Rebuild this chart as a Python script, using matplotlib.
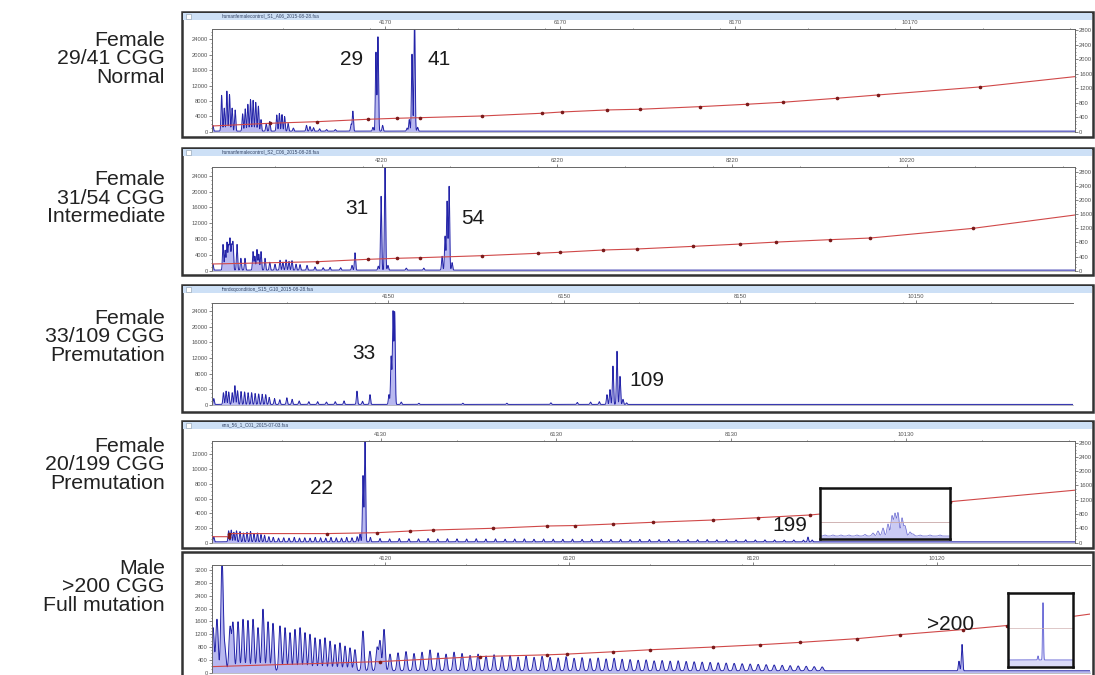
import numpy as np
import matplotlib.pyplot as plt
from matplotlib.patches import Rectangle
from matplotlib.ticker import MultipleLocator

plt.rcParams['font.family'] = ['Liberation Sans', 'DejaVu Sans']

W, H = 1095, 675

# ---- labels ----
sample_labels = ["Female\n29/41 CGG\nNormal",
                 "Female\n31/54 CGG\nIntermediate",
                 "Female\n33/109 CGG\nPremutation",
                 "Female\n20/199 CGG\nPremutation",
                 "Male\n>200 CGG\nFull mutation"]
file_names = ["humanfemalecontrol_S1_A06_2015-08-28.fsa",
              "humanfemalecontrol_S2_C06_2015-08-28.fsa",
              "fmrdxqcondition_S15_G10_2015-08-28.fsa",
              "ena_56_1_C01_2015-07-03.fsa",
              None]
top_ticks = [[4170, 6170, 8170, 10170],
             [4220, 6220, 8220, 10220],
             [4150, 6150, 8150, 10150],
             [4130, 6130, 8130, 10130],
             [4120, 6120, 8120, 10120]]

# ---- peaks (scan, RFU) ----
p1_pos = [2200, 2300, 2330, 2360, 2390, 2420, 2455, 2540, 2570, 2600,
          2630, 2660, 2690, 2720, 2750, 2810, 2850, 2930, 2960, 2990,
          3020, 3060, 3120, 3270, 3310, 3350, 3420, 3500, 3600, 3780,
          3800, 4030, 4064, 4087, 4140, 4420, 4445, 4476, 4505, 4540]
p1_hgt = [1500, 9300, 6000, 10400, 9500, 6000, 5500, 4500, 5800, 7000,
          8200, 8000, 7500, 6500, 3000, 2000, 2500, 4200, 4600, 4300,
          3800, 2000, 800, 1500, 1200, 900, 600, 400, 400, 1800,
          5200, 1000, 20500, 24500, 1500, 800, 3000, 20000, 30000, 1000]

p2_pos = [2290, 2406, 2430, 2451, 2470, 2486, 2505, 2520, 2566, 2610,
          2657, 2749, 2770, 2794, 2815, 2840, 2886, 2940, 3000, 3057,
          3090, 3126, 3160, 3194, 3240, 3286, 3366, 3457, 3550, 3629,
          3750, 3880, 3914, 4180, 4212, 4257, 4290, 4500, 4700, 4909,
          4943, 4966, 4989, 5023]
p2_hgt = [1500, 6500, 5000, 7000, 6000, 7800, 6000, 6800, 6500, 3000,
          3000, 4700, 3500, 5200, 4000, 4700, 3000, 2000, 1500, 2500,
          2000, 2600, 2200, 2400, 1500, 1400, 1200, 800, 600, 700,
          600, 1200, 4400, 1000, 18700, 27000, 1200, 500, 500, 3500,
          8600, 17400, 21200, 1900]

p3_pos = [2170, 2280, 2310, 2340, 2380, 2410, 2440, 2480, 2520, 2560,
          2600, 2640, 2680, 2720, 2760, 2800, 2860, 2920, 3000, 3060,
          3140, 3250, 3350, 3450, 3550, 3650, 3797, 3860, 3945, 4160,
          4185, 4206, 4225, 4300, 4500, 5000, 5500, 6000, 6300, 6450,
          6550, 6637, 6671, 6705, 6751, 6785, 6819, 6860]
p3_hgt = [1500, 3000, 3400, 3200, 3000, 4800, 3500, 3300, 3200, 3000,
          3000, 2800, 2700, 2600, 2500, 1800, 1500, 1200, 1700, 1300,
          900, 700, 700, 600, 700, 900, 3400, 800, 2500, 2500,
          12300, 23600, 23400, 600, 300, 300, 300, 400, 500, 600,
          700, 2500, 3800, 9800, 13600, 7200, 1300, 400]

p4_pos = [2220, 2390, 2420, 2450, 2480, 2520, 2560, 2600, 2640, 2680,
          2720, 2760, 2800, 2850, 2900, 2960, 3020, 3080, 3140, 3200,
          3260, 3320, 3380, 3440, 3500, 3560, 3620, 3680, 3740, 3800,
          3860, 3892, 3926, 3949, 4010, 4120, 4230, 4340, 4450, 4560,
          4670, 4780, 4890, 5000, 5110, 5220, 5330, 5440, 5550, 5660,
          5770, 5880, 5990, 6100, 6210, 6320, 6430, 6540, 6650, 6760,
          6870, 6980, 7090, 7200, 7310, 7420, 7530, 7640, 7750, 7860,
          7970, 8080, 8190, 8300, 8410, 8520, 8630, 8740, 8850, 8960,
          9012, 9060]
p4_hgt = [700, 1500, 1600, 1300, 1500, 1400, 1200, 1300, 1400, 1100,
          1200, 1000, 900, 700, 600, 500, 550, 500, 600, 500,
          550, 500, 600, 550, 500, 600, 550, 500, 600, 550,
          700, 1050, 8980, 14500, 600, 450, 400, 450, 420, 400,
          450, 380, 420, 400, 380, 420, 380, 400, 360, 380,
          400, 350, 380, 360, 340, 360, 330, 350, 340, 320,
          340, 300, 330, 310, 300, 320, 290, 300, 280, 300,
          270, 280, 260, 280, 250, 260, 250, 240, 250, 230,
          640, 250]

p5_pos = [2251, 2294, 2349, 2380, 2436, 2468, 2523, 2577, 2631, 2686,
          2740, 2794, 2849, 2903, 2979, 3034, 3088, 3142, 3197, 3251,
          3305, 3360, 3414, 3468, 3523, 3577, 3631, 3686, 3740, 3794,
          3881, 3957, 4034, 4066, 4110,
          4175, 4262, 4349, 4436, 4523, 4610, 4697, 4784, 4871, 4958,
          5045, 5132, 5219, 5306, 5393, 5480, 5567, 5654, 5741, 5828,
          5915, 6002, 6089, 6176, 6263, 6350, 6437, 6524, 6611, 6698,
          6785, 6872, 6959, 7046, 7133, 7220, 7307, 7394, 7481, 7568,
          7655, 7742, 7829, 7916, 8003, 8090, 8177, 8264, 8351, 8438,
          8525, 8612, 8699, 8786, 8873, 10360, 10393]
p5_hgt = [1345, 1606, 3500, 700, 1345, 1480, 1530, 1606, 1570, 1606,
          1345, 1920, 1530, 1480, 1400, 1345, 1190, 1290, 1345, 1190,
          1140, 1030, 980, 1030, 925, 820, 870, 770, 715, 660,
          1240, 610, 715, 925, 1290,
          520, 560, 600, 540, 580, 650, 560, 520, 580, 540,
          480, 520, 460, 500, 440, 480, 430, 460, 420, 450,
          420, 400, 440, 390, 410, 380, 400, 370, 390, 360,
          350, 330, 340, 310, 320, 300, 310, 290, 280, 270,
          260, 250, 240, 230, 220, 210, 200, 190, 180, 170,
          160, 150, 140, 130, 120, 300, 820]

# ---- size-standard (red) curves ----
p1_lad_x = [2190, 2853, 3390, 3973, 4304, 4567, 5276, 5962, 6190, 6705,
            7082, 7768, 8305, 8716, 9333, 9802, 10968, 12054]
p1_lad_y = [157, 232, 276, 342, 370, 386, 433, 508, 543, 599,
            618, 690, 756, 811, 921, 1012, 1233, 1517]
p2_lad_x = [2280, 3480, 4063, 4394, 4657, 5366, 6006, 6257, 6749, 7137,
            7770, 8310, 8720, 9340, 9800, 10970, 12140]
p2_lad_y = [190, 255, 323, 352, 369, 426, 494, 522, 587, 616,
            690, 756, 811, 880, 927, 1200, 1580]
p4_lad_x = [2200, 2390, 2400, 3514, 4086, 4463, 4726, 5412, 6029, 6349,
            6783, 7241, 7926, 8441, 9035, 10635, 12087]
p4_lad_y = [168, 168, 255, 255, 280, 327, 355, 403, 467, 480,
            523, 571, 635, 699, 775, 1147, 1474]
p5_lad_x = [2240, 4066, 5153, 5881, 6099, 6599, 7001, 7686, 8197, 8632,
            9251, 9719, 10404, 10882, 11838]
p5_lad_y = [189, 346, 504, 557, 580, 652, 715, 800, 872, 945,
            1061, 1187, 1345, 1471, 1849]

# ---- insets (zoomed views) ----
ins4_pos = [5, 13, 21, 29, 37, 45, 53, 58, 63, 68, 72, 75, 78, 82, 85, 90, 93, 100, 110, 120]
ins4_hgt = [1, 1, 1, 1, 1, 1.5, 3, 5, 8, 12, 20, 22, 23, 18, 10, 4, 2, 1, 1, 1]
ins5_pos = [30, 35]
ins5_hgt = [4, 57]

# ---- allele calls ----
calls = [[("29", 3790, 18750), ("41", 4785, 18750)],
         [("31", 3937, 15840), ("54", 5263, 13240)],
         [("33", 3877, 13170), ("109", 7092, 6370)],
         [("22", 3446, 7400), ("199", 8807, 2270)],
         [(">200", 10273, 1502)]]

peaks = [(p1_pos, p1_hgt), (p2_pos, p2_hgt), (p3_pos, p3_hgt),
         (p4_pos, p4_hgt), (p5_pos, p5_hgt)]
ladders = [(p1_lad_x, p1_lad_y), (p2_lad_x, p2_lad_y), None,
           (p4_lad_x, p4_lad_y), (p5_lad_x, p5_lad_y)]

# layout in pixels
layout = [
    dict(frame=(182, 12, 1093, 137), ax=(212, 29.3, 1075, 131.7), xlim=(2190, 12054),
         ylim=(0, 26600), ystep=4000, ymax=24000, rlim=(0, 2820), label_y=59, base=150),
    dict(frame=(182, 148, 1093, 275), ax=(212, 166.7, 1075, 270.7), xlim=(2280, 12140),
         ylim=(0, 26300), ystep=4000, ymax=24000, rlim=(0, 2950), label_y=198, base=150),
    dict(frame=(182, 285, 1093, 412), ax=(212, 303.3, 1073, 405), xlim=(2150, 11931),
         ylim=(0, 26000), ystep=4000, ymax=24000, rlim=None, label_y=337, base=150),
    dict(frame=(182, 421, 1093, 548), ax=(212, 440.7, 1075, 542.7), xlim=(2200, 12064),
         ylim=(0, 13850), ystep=2000, ymax=12000, rlim=(0, 2853), label_y=465, base=120),
    dict(frame=(182, 552, 1093, 700), ax=(212, 565, 1090, 672.7), xlim=(2240, 11784),
         ylim=(0, 3357), ystep=400, ymax=3200, rlim=None, label_y=587, base=60),
]


def frect(x0, y0, x1, y1):
    return [x0 / W, 1 - y1 / H, (x1 - x0) / W, (y1 - y0) / H]


def trace(ax, pos, hgt, lo, hi, sigma, base, fill='#8a8ae6', line='#2424a8', lw=0.7, n=8000):
    x = np.linspace(lo, hi, n)
    y = np.full_like(x, float(base))
    sig = np.broadcast_to(np.asarray(sigma, dtype=float), (len(pos),))
    for p, h, s in zip(pos, hgt, sig):
        y += h * np.exp(-0.5 * ((x - p) / s) ** 2)
    ax.fill_between(x, 0, y, color=fill, alpha=0.6, lw=0)
    ax.plot(x, y, color=line, lw=lw)


fig = plt.figure(figsize=(W / 100, H / 100), dpi=100)

for i, L in enumerate(layout):
    fx0, fy0, fx1, fy1 = L['frame']
    fig.patches.append(Rectangle((fx0 / W, 1 - fy1 / H), (fx1 - fx0) / W, (fy1 - fy0) / H,
                                 transform=fig.transFigure, facecolor='white',
                                 edgecolor='#333333', lw=1.8, zorder=-2))
    if file_names[i]:
        fig.patches.append(Rectangle(((fx0 + 1) / W, 1 - (fy0 + 8) / H), (fx1 - fx0 - 2) / W, 7.5 / H,
                                     transform=fig.transFigure, facecolor='#cde0f6',
                                     edgecolor='none', zorder=-1))
        fig.patches.append(Rectangle(((fx0 + 4) / W, 1 - (fy0 + 6.5) / H), 5 / W, 4.5 / H,
                                     transform=fig.transFigure, facecolor='white',
                                     edgecolor='#8899aa', lw=0.4, zorder=-1))
        fig.text((fx0 + 40) / W, 1 - (fy0 + 4) / H, file_names[i], fontsize=3.4,
                 color='#334466', va='center', ha='left')

    # sample label
    fig.text(165 / W, 1 - L['label_y'] / H, sample_labels[i], fontsize=15.3, color='#222222',
             ha='right', va='center', multialignment='right', linespacing=0.97)

    ax = fig.add_axes(frect(*L['ax']), zorder=2)
    ax.set_xlim(*L['xlim'])
    ax.set_ylim(*L['ylim'])
    pos, hgt = peaks[i]
    if i == 4:
        sig = np.where(np.array(pos) > 10000, 7, 12)
    else:
        sig = 6.5
    trace(ax, pos, hgt, L['xlim'][0], L['xlim'][1], sig, L['base'])

    ax.xaxis.set_ticks_position('top')
    ax.set_xticks(top_ticks[i])
    ax.set_xticklabels([str(t) for t in top_ticks[i]])
    ax.xaxis.set_minor_locator(MultipleLocator(1000))
    ax.set_yticks(np.arange(0, L['ymax'] + 1, L['ystep']))
    ax.yaxis.set_minor_locator(MultipleLocator(L['ystep'] / 4))
    ax.tick_params(axis='both', which='both', labelsize=4.2, colors='#555555',
                   length=2, width=0.5, pad=1)
    ax.tick_params(axis='both', which='minor', length=1)
    for s in ['top', 'left']:
        ax.spines[s].set_color('#666666')
        ax.spines[s].set_linewidth(0.7)
    ax.spines['bottom'].set_color('#aaaaaa')
    ax.spines['bottom'].set_linewidth(0.5)
    ax.spines['right'].set_visible(False)

    lad = ladders[i]
    if lad is not None:
        if L['rlim'] is not None:
            ax2 = ax.twinx()
            ax2.set_ylim(*L['rlim'])
            ax2.set_yticks(np.arange(0, 2801, 400))
            ax2.yaxis.set_minor_locator(MultipleLocator(100))
            ax2.tick_params(axis='y', which='both', labelsize=4.2, colors='#555555',
                            length=2, width=0.5, pad=1)
            ax2.tick_params(axis='y', which='minor', length=1)
            for s in ['top', 'left', 'bottom']:
                ax2.spines[s].set_visible(False)
            ax2.spines['right'].set_color('#666666')
            ax2.spines['right'].set_linewidth(0.7)
            tgt = ax2
        else:
            tgt = ax
        tgt.plot(lad[0], lad[1], color='#d04848', lw=0.8, marker='o', ms=1.6,
                 mfc='#7a1a1a', mec='#7a1a1a', markevery=list(range(1, len(lad[0]) - 1)))

    for txt, cx, cy in calls[i]:
        ax.text(cx, cy, txt, fontsize=15, color='#1a1a1a', ha='center', va='center', zorder=6)

# inset for the 199 allele
ins4 = fig.add_axes(frect(820, 488, 950, 539), zorder=5)
ins4.set_xlim(0, 130)
ins4.set_ylim(0, 51)
trace(ins4, ins4_pos, ins4_hgt, 0, 130, 1.1, 3, fill='#a8a8ee', line='#6a6ad0', lw=0.5, n=1500)
ins4.axhline(17, color='#c9a7a7', lw=0.6)
ins4.set_xticks([])
ins4.set_yticks([])
for s in ins4.spines.values():
    s.set_color('#111111')
    s.set_linewidth(1.8)

# inset for the >200 allele
ins5 = fig.add_axes(frect(1008, 592.7, 1073, 667), zorder=5)
ins5.set_xlim(0, 65)
ins5.set_ylim(0, 74)
trace(ins5, ins5_pos, ins5_hgt, 0, 65, 0.45, 7, fill='#c0c0f2', line='#7070d8', lw=0.7, n=1500)
ins5.axhline(39, color='#d0b0b0', lw=0.5)
ins5.set_xticks([])
ins5.set_yticks([])
for s in ins5.spines.values():
    s.set_color('#111111')
    s.set_linewidth(1.8)

fig.savefig('out.png', dpi=100, facecolor='white')
